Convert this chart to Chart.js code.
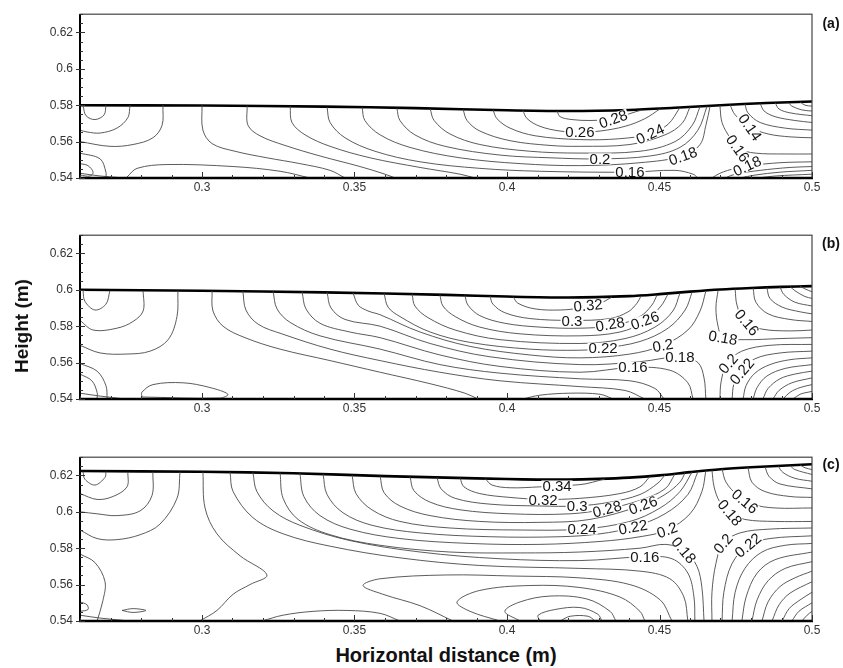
<!DOCTYPE html>
<html>
<head>
<meta charset="utf-8">
<script src="https://cdn.jsdelivr.net/npm/chart.js@4.4.0/dist/chart.umd.min.js"></script>
<style>
body { margin: 0; background: #fff; font-family: "Liberation Sans", Arial, sans-serif; }
#wrap { position: relative; width: 843px; height: 668px; overflow: hidden; }
canvas { position: absolute; left: 0; }
#ylab { position: absolute; left: 22px; top: 326px; transform: translate(-50%, -50%) rotate(-90deg); font-weight: bold; font-size: 19px; white-space: nowrap; color: #111; }
#xlab { position: absolute; left: 446px; top: 655px; transform: translate(-50%, -50%); font-weight: bold; font-size: 20px; white-space: nowrap; color: #111; }
.tag { position: absolute; left: 831px; transform: translate(-50%, -50%); font-weight: bold; font-size: 14px; color: #111; }
</style>
</head>
<body>
<div id="wrap">
  <canvas id="pa" width="843" height="200" style="top:0px"></canvas>
  <canvas id="pb" width="843" height="200" style="top:221px"></canvas>
  <canvas id="pc" width="843" height="200" style="top:443px"></canvas>
  <div id="ylab">Height (m)</div>
  <div id="xlab">Horizontal distance (m)</div>
  <div class="tag" style="top:23px">(a)</div>
  <div class="tag" style="top:243px">(b)</div>
  <div class="tag" style="top:464px">(c)</div>
</div>
<script>
// axis ticks
const xMajor = [0.3, 0.35, 0.4, 0.45, 0.5];
const xLabels = ['0.3', '0.35', '0.4', '0.45', '0.5'];
const yMajor = [0.54, 0.56, 0.58, 0.6, 0.62];
const yLabels = ['0.54', '0.56', '0.58', '0.6', '0.62'];

// free surface of each panel
const surfaceAx = [0.26, 0.30, 0.34, 0.37, 0.40, 0.42, 0.44, 0.455, 0.47, 0.485, 0.50];
const surfaceAy = [0.5800, 0.5798, 0.5792, 0.5784, 0.5772, 0.5768, 0.5774, 0.5786, 0.5800, 0.5812, 0.5820];
const surfaceBx = [0.26, 0.30, 0.34, 0.38, 0.40, 0.42, 0.44, 0.45, 0.46, 0.47, 0.48, 0.49, 0.50];
const surfaceBy = [0.6000, 0.5995, 0.5986, 0.5972, 0.5963, 0.5958, 0.5965, 0.5976, 0.5990, 0.6002, 0.6010, 0.6016, 0.6020];
const surfaceCx = [0.26, 0.30, 0.33, 0.36, 0.38, 0.40, 0.41, 0.42, 0.43, 0.44, 0.45, 0.46, 0.47, 0.48, 0.49, 0.50];
const surfaceCy = [0.6224, 0.6220, 0.6212, 0.6196, 0.6188, 0.6180, 0.6177, 0.6177, 0.6181, 0.6188, 0.6200, 0.6218, 0.6234, 0.6245, 0.6253, 0.6261];

// contour lines, [x, y] in metres
const contoursA = [
  [[0.2610,0.5795],[0.2620,0.5742],[0.2649,0.5721],[0.2679,0.5747],[0.2685,0.5800]],
  [[0.2764,0.5800],[0.2757,0.5732],[0.2721,0.5674],[0.2666,0.5647],[0.2623,0.5653],[0.2600,0.5663]],
  [[0.2872,0.5800],[0.2869,0.5689],[0.2839,0.5621],[0.2774,0.5584],[0.2698,0.5574],[0.2600,0.5600]],
  [[0.2600,0.5537],[0.2666,0.5505],[0.2685,0.5432],[0.2685,0.5400]],
  [[0.2600,0.5479],[0.2626,0.5468],[0.2643,0.5432],[0.2633,0.5411],[0.2600,0.5416]],
  [[0.2600,0.5426],[0.2666,0.5411],[0.2748,0.5400]],
  [[0.2754,0.5405],[0.2787,0.5453],[0.2885,0.5474],[0.3102,0.5463],[0.3256,0.5437],[0.3354,0.5400]],
  [[0.3000,0.5800],[0.3003,0.5663],[0.3033,0.5589],[0.3108,0.5547],[0.3213,0.5511],[0.3321,0.5479],[0.3420,0.5442],[0.3469,0.5400]],
  [[0.3148,0.5797],[0.3151,0.5689],[0.3190,0.5632],[0.3272,0.5579],[0.3387,0.5521],[0.3518,0.5463],[0.3600,0.5421],[0.3633,0.5400]],
  [[0.3289,0.5795],[0.3295,0.5705],[0.3338,0.5637],[0.3420,0.5574],[0.3551,0.5511],[0.3715,0.5458],[0.3846,0.5421],[0.3895,0.5400]],
  [[0.3410,0.5790],[0.3420,0.5705],[0.3469,0.5621],[0.3567,0.5547],[0.3715,0.5489],[0.3911,0.5453],[0.4108,0.5437],[0.4403,0.5432],[0.4551,0.5442],[0.4610,0.5421],[0.4626,0.5400]],
  [[0.3525,0.5788],[0.3534,0.5716],[0.3584,0.5637],[0.3682,0.5568],[0.3846,0.5511],[0.4043,0.5479],[0.4239,0.5468],[0.4436,0.5484],[0.4577,0.5521],[0.4633,0.5584],[0.4652,0.5689],[0.4666,0.5795]],
  [[0.3639,0.5784],[0.3649,0.5716],[0.3698,0.5637],[0.3797,0.5574],[0.3977,0.5526],[0.4141,0.5511],[0.4305,0.5505],[0.4469,0.5521],[0.4567,0.5568],[0.4626,0.5663],[0.4656,0.5795]],
  [[0.3748,0.5781],[0.3761,0.5716],[0.3813,0.5642],[0.3911,0.5584],[0.4075,0.5547],[0.4239,0.5537],[0.4436,0.5547],[0.4551,0.5600],[0.4607,0.5689],[0.4633,0.5793]],
  [[0.3856,0.5777],[0.3869,0.5716],[0.3911,0.5658],[0.4010,0.5605],[0.4141,0.5579],[0.4239,0.5574],[0.4403,0.5584],[0.4518,0.5637],[0.4574,0.5700],[0.4600,0.5790]],
  [[0.3954,0.5775],[0.3967,0.5726],[0.4010,0.5674],[0.4092,0.5632],[0.4239,0.5611],[0.4370,0.5616],[0.4469,0.5642],[0.4528,0.5695],[0.4567,0.5787]],
  [[0.4052,0.5771],[0.4066,0.5726],[0.4108,0.5684],[0.4174,0.5658],[0.4239,0.5653],[0.4305,0.5658],[0.4387,0.5684],[0.4452,0.5726],[0.4502,0.5780]],
  [[0.4164,0.5768],[0.4174,0.5737],[0.4213,0.5721],[0.4272,0.5716],[0.4321,0.5721],[0.4370,0.5737],[0.4420,0.5763],[0.4443,0.5774]],
  [[0.4698,0.5800],[0.4705,0.5705],[0.4731,0.5621],[0.4757,0.5563],[0.4813,0.5537],[0.4912,0.5532],[0.5000,0.5532]],
  [[0.4731,0.5803],[0.4748,0.5747],[0.4797,0.5679],[0.4856,0.5642],[0.4928,0.5626],[0.5000,0.5621]],
  [[0.4780,0.5807],[0.4790,0.5758],[0.4830,0.5705],[0.4912,0.5674],[0.5000,0.5663]],
  [[0.4830,0.5810],[0.4843,0.5768],[0.4879,0.5737],[0.4944,0.5716],[0.5000,0.5705]],
  [[0.4879,0.5814],[0.4892,0.5779],[0.4928,0.5758],[0.5000,0.5742]],
  [[0.4921,0.5816],[0.4934,0.5795],[0.4967,0.5774],[0.5000,0.5768]],
  [[0.4961,0.5818],[0.4977,0.5800],[0.5000,0.5795]],
  [[0.4672,0.5400],[0.4698,0.5426],[0.4748,0.5453],[0.4797,0.5468],[0.4895,0.5484],[0.5000,0.5489]],
  [[0.4715,0.5400],[0.4748,0.5421],[0.4830,0.5442],[0.4928,0.5458],[0.5000,0.5463]],
  [[0.4764,0.5400],[0.4813,0.5416],[0.4895,0.5432],[0.5000,0.5442]],
  [[0.4823,0.5400],[0.4879,0.5411],[0.5000,0.5421]]
];

const contoursB = [
  [[0.2610,0.5995],[0.2616,0.5937],[0.2649,0.5889],[0.2685,0.5921],[0.2698,0.5995]],
  [[0.2807,0.5995],[0.2807,0.5884],[0.2774,0.5826],[0.2721,0.5789],[0.2643,0.5779],[0.2600,0.5832]],
  [[0.2921,0.5995],[0.2918,0.5853],[0.2889,0.5726],[0.2830,0.5663],[0.2754,0.5647],[0.2666,0.5653],[0.2600,0.5695]],
  [[0.2600,0.5595],[0.2656,0.5553],[0.2685,0.5474],[0.2689,0.5400]],
  [[0.2600,0.5537],[0.2639,0.5500],[0.2656,0.5437],[0.2656,0.5400]],
  [[0.2600,0.5432],[0.2666,0.5416],[0.2748,0.5400]],
  [[0.2803,0.5411],[0.2803,0.5437],[0.2839,0.5479],[0.2938,0.5489],[0.3026,0.5463],[0.3085,0.5426],[0.3059,0.5405],[0.2803,0.5411]],
  [[0.3033,0.5994],[0.3036,0.5884],[0.3069,0.5800],[0.3141,0.5737],[0.3256,0.5674],[0.3420,0.5611],[0.3584,0.5547],[0.3748,0.5484],[0.3862,0.5432],[0.3905,0.5400]],
  [[0.3134,0.5993],[0.3144,0.5889],[0.3184,0.5811],[0.3262,0.5758],[0.3420,0.5674],[0.3584,0.5611],[0.3780,0.5547],[0.3977,0.5500],[0.4239,0.5468],[0.4387,0.5447],[0.4452,0.5400]],
  [[0.3233,0.5991],[0.3246,0.5895],[0.3289,0.5821],[0.3387,0.5747],[0.3584,0.5674],[0.3780,0.5589],[0.3977,0.5542],[0.4239,0.5511],[0.4403,0.5500],[0.4485,0.5458],[0.4515,0.5400]],
  [[0.3328,0.5989],[0.3341,0.5895],[0.3387,0.5816],[0.3485,0.5768],[0.3584,0.5737],[0.3780,0.5642],[0.3977,0.5579],[0.4239,0.5547],[0.4413,0.5574],[0.4534,0.5558],[0.4593,0.5489],[0.4610,0.5400]],
  [[0.3410,0.5987],[0.3423,0.5900],[0.3469,0.5837],[0.3584,0.5800],[0.3748,0.5705],[0.3944,0.5632],[0.4239,0.5589],[0.4436,0.5605],[0.4567,0.5632],[0.4626,0.5600],[0.4646,0.5516],[0.4652,0.5400]],
  [[0.3495,0.5984],[0.3512,0.5916],[0.3544,0.5884],[0.3584,0.5863],[0.3715,0.5768],[0.3879,0.5689],[0.4075,0.5642],[0.4239,0.5626],[0.4403,0.5647],[0.4511,0.5695],[0.4593,0.5779],[0.4633,0.5884],[0.4652,0.5993]],
  [[0.3597,0.5980],[0.3610,0.5905],[0.3649,0.5853],[0.3748,0.5768],[0.3879,0.5711],[0.4075,0.5674],[0.4239,0.5668],[0.4315,0.5679],[0.4436,0.5716],[0.4528,0.5789],[0.4584,0.5889],[0.4607,0.5988]],
  [[0.3689,0.5977],[0.3698,0.5911],[0.3741,0.5847],[0.3830,0.5779],[0.3977,0.5726],[0.4239,0.5705],[0.4387,0.5732],[0.4485,0.5795],[0.4544,0.5884],[0.4567,0.5982]],
  [[0.3780,0.5973],[0.3790,0.5911],[0.3830,0.5853],[0.3911,0.5795],[0.4043,0.5758],[0.4239,0.5747],[0.4370,0.5768],[0.4452,0.5826],[0.4505,0.5911],[0.4528,0.5977]],
  [[0.3862,0.5969],[0.3872,0.5916],[0.3911,0.5858],[0.3993,0.5816],[0.4108,0.5795],[0.4239,0.5789],[0.4354,0.5805],[0.4436,0.5853],[0.4475,0.5916],[0.4492,0.5972]],
  [[0.3944,0.5966],[0.3954,0.5921],[0.3993,0.5874],[0.4075,0.5842],[0.4213,0.5832],[0.4338,0.5842],[0.4397,0.5879],[0.4426,0.5926],[0.4439,0.5965]],
  [[0.4020,0.5962],[0.4036,0.5926],[0.4092,0.5895],[0.4174,0.5889],[0.4239,0.5900],[0.4305,0.5926],[0.4344,0.5960]],
  [[0.4052,0.5400],[0.4108,0.5421],[0.4207,0.5432],[0.4305,0.5426],[0.4348,0.5400]],
  [[0.4692,0.5997],[0.4685,0.5900],[0.4692,0.5800],[0.4708,0.5737],[0.4780,0.5726],[0.4895,0.5732],[0.5000,0.5737]],
  [[0.4748,0.6003],[0.4754,0.5916],[0.4780,0.5821],[0.4836,0.5784],[0.4928,0.5774],[0.5000,0.5779]],
  [[0.4807,0.6010],[0.4816,0.5932],[0.4856,0.5868],[0.4928,0.5837],[0.5000,0.5826]],
  [[0.4852,0.6013],[0.4862,0.5953],[0.4902,0.5905],[0.4961,0.5879],[0.5000,0.5868]],
  [[0.4895,0.6016],[0.4908,0.5974],[0.4944,0.5932],[0.5000,0.5911]],
  [[0.4928,0.6018],[0.4944,0.5995],[0.4977,0.5963],[0.5000,0.5953]],
  [[0.4961,0.6019],[0.4977,0.6005],[0.5000,0.5989]],
  [[0.4698,0.5400],[0.4702,0.5495],[0.4721,0.5595],[0.4770,0.5663],[0.4862,0.5695],[0.5000,0.5700]],
  [[0.4738,0.5400],[0.4744,0.5484],[0.4767,0.5553],[0.4813,0.5621],[0.4895,0.5653],[0.5000,0.5663]],
  [[0.4774,0.5400],[0.4784,0.5474],[0.4813,0.5542],[0.4862,0.5589],[0.4928,0.5616],[0.5000,0.5626]],
  [[0.4807,0.5400],[0.4820,0.5463],[0.4852,0.5526],[0.4912,0.5568],[0.5000,0.5589]],
  [[0.4839,0.5400],[0.4856,0.5458],[0.4895,0.5511],[0.4944,0.5537],[0.5000,0.5553]],
  [[0.4872,0.5400],[0.4892,0.5447],[0.4934,0.5489],[0.5000,0.5516]],
  [[0.4905,0.5400],[0.4928,0.5437],[0.4961,0.5463],[0.5000,0.5479]],
  [[0.4938,0.5400],[0.4961,0.5426],[0.5000,0.5442]]
];

const contoursC = [
  [[0.2610,0.6221],[0.2616,0.6179],[0.2649,0.6147],[0.2682,0.6189],[0.2685,0.6221]],
  [[0.2757,0.6220],[0.2754,0.6137],[0.2708,0.6084],[0.2656,0.6068],[0.2600,0.6100]],
  [[0.2839,0.6220],[0.2836,0.6089],[0.2797,0.6005],[0.2721,0.5979],[0.2656,0.5989],[0.2600,0.6000]],
  [[0.2928,0.6220],[0.2918,0.6074],[0.2862,0.5932],[0.2797,0.5874],[0.2721,0.5847],[0.2656,0.5853],[0.2600,0.5900]],
  [[0.3003,0.6220],[0.3010,0.6021],[0.3049,0.5879],[0.3125,0.5758],[0.3213,0.5653],[0.3157,0.5600],[0.3102,0.5547],[0.3049,0.5458],[0.2993,0.5400]],
  [[0.2600,0.5768],[0.2649,0.5721],[0.2682,0.5616],[0.2675,0.5511],[0.2656,0.5400]],
  [[0.2600,0.5505],[0.2623,0.5489],[0.2626,0.5463],[0.2600,0.5453]],
  [[0.2600,0.5432],[0.2666,0.5416],[0.2764,0.5400]],
  [[0.2738,0.5458],[0.2774,0.5468],[0.2816,0.5458],[0.2774,0.5447],[0.2738,0.5458]],
  [[0.3197,0.5400],[0.3266,0.5432],[0.3364,0.5453],[0.3475,0.5458],[0.3584,0.5442],[0.3649,0.5400]],
  [[0.3092,0.6218],[0.3102,0.6111],[0.3167,0.5968],[0.3266,0.5879],[0.3420,0.5811],[0.3649,0.5747],[0.3911,0.5705],[0.4239,0.5689],[0.4436,0.5674],[0.4534,0.5632],[0.4580,0.5532],[0.4593,0.5400]],
  [[0.3167,0.6216],[0.3180,0.6111],[0.3233,0.6005],[0.3321,0.5926],[0.3485,0.5842],[0.3715,0.5779],[0.3977,0.5742],[0.4239,0.5732],[0.4452,0.5753],[0.4541,0.5742],[0.4593,0.5663],[0.4613,0.5532],[0.4616,0.5400]],
  [[0.3256,0.6214],[0.3266,0.6074],[0.3315,0.5958],[0.3420,0.5874],[0.3584,0.5816],[0.3813,0.5779],[0.4043,0.5774],[0.4239,0.5779],[0.4436,0.5800],[0.4521,0.5821],[0.4584,0.5784],[0.4623,0.5700],[0.4639,0.5584],[0.4646,0.5400]],
  [[0.3321,0.6212],[0.3334,0.6084],[0.3387,0.5979],[0.3485,0.5905],[0.3649,0.5853],[0.3879,0.5826],[0.4108,0.5821],[0.4305,0.5837],[0.4436,0.5863],[0.4525,0.5900],[0.4600,0.5989],[0.4639,0.6111],[0.4652,0.6226]],
  [[0.3397,0.6208],[0.3410,0.6095],[0.3462,0.5995],[0.3557,0.5926],[0.3715,0.5884],[0.3944,0.5863],[0.4174,0.5863],[0.4305,0.5879],[0.4413,0.5916],[0.4518,0.5989],[0.4593,0.6095],[0.4626,0.6222]],
  [[0.3492,0.6202],[0.3505,0.6100],[0.3557,0.6011],[0.3649,0.5947],[0.3813,0.5911],[0.4043,0.5900],[0.4246,0.5905],[0.4403,0.5947],[0.4502,0.6021],[0.4567,0.6111],[0.4607,0.6219]],
  [[0.3584,0.6196],[0.3597,0.6105],[0.3649,0.6032],[0.3748,0.5979],[0.3911,0.5947],[0.4108,0.5942],[0.4272,0.5958],[0.4446,0.6037],[0.4518,0.6095],[0.4567,0.6163],[0.4584,0.6215]],
  [[0.3682,0.6193],[0.3695,0.6116],[0.3748,0.6053],[0.3846,0.6011],[0.4010,0.5989],[0.4207,0.5989],[0.4328,0.6016],[0.4436,0.6063],[0.4518,0.6126],[0.4551,0.6209]],
  [[0.3770,0.6190],[0.3784,0.6126],[0.3830,0.6074],[0.3944,0.6042],[0.4108,0.6032],[0.4230,0.6032],[0.4338,0.6053],[0.4436,0.6095],[0.4495,0.6158],[0.4518,0.6203]],
  [[0.3846,0.6186],[0.3859,0.6137],[0.3911,0.6100],[0.4010,0.6079],[0.4118,0.6068],[0.4239,0.6074],[0.4370,0.6100],[0.4436,0.6137],[0.4469,0.6195]],
  [[0.3928,0.6183],[0.3951,0.6147],[0.4010,0.6132],[0.4108,0.6137],[0.4174,0.6142],[0.4256,0.6153],[0.4305,0.6174],[0.4321,0.6180]],
  [[0.3823,0.5400],[0.3715,0.5484],[0.3593,0.5547],[0.3528,0.5595],[0.3584,0.5632],[0.3803,0.5653],[0.4020,0.5647],[0.4239,0.5637],[0.4403,0.5600],[0.4502,0.5516],[0.4541,0.5400]],
  [[0.3977,0.5400],[0.3879,0.5453],[0.3836,0.5505],[0.3911,0.5568],[0.4075,0.5595],[0.4239,0.5584],[0.4370,0.5532],[0.4436,0.5453],[0.4452,0.5400]],
  [[0.4043,0.5400],[0.3993,0.5453],[0.4043,0.5505],[0.4141,0.5537],[0.4262,0.5521],[0.4338,0.5453],[0.4357,0.5400]],
  [[0.4108,0.5400],[0.4102,0.5432],[0.4157,0.5463],[0.4239,0.5474],[0.4298,0.5437],[0.4311,0.5400]],
  [[0.4174,0.5400],[0.4207,0.5426],[0.4266,0.5426],[0.4289,0.5400]],
  [[0.4672,0.6229],[0.4679,0.6137],[0.4698,0.6053],[0.4731,0.5995],[0.4780,0.5958],[0.4879,0.5947],[0.5000,0.5947]],
  [[0.4705,0.6235],[0.4718,0.6163],[0.4757,0.6089],[0.4803,0.6042],[0.4879,0.6021],[0.5000,0.6021]],
  [[0.4790,0.6244],[0.4803,0.6163],[0.4846,0.6111],[0.4928,0.6084],[0.5000,0.6079]],
  [[0.4846,0.6247],[0.4859,0.6195],[0.4895,0.6153],[0.5000,0.6126]],
  [[0.4889,0.6251],[0.4905,0.6216],[0.4944,0.6184],[0.5000,0.6168]],
  [[0.4928,0.6254],[0.4944,0.6232],[0.5000,0.6205]],
  [[0.4961,0.6257],[0.4977,0.6242],[0.5000,0.6232]],
  [[0.4672,0.5400],[0.4672,0.5558],[0.4685,0.5716],[0.4708,0.5826],[0.4764,0.5884],[0.4862,0.5905],[0.5000,0.5911]],
  [[0.4705,0.5400],[0.4711,0.5558],[0.4738,0.5716],[0.4790,0.5816],[0.4862,0.5853],[0.5000,0.5868]],
  [[0.4738,0.5400],[0.4748,0.5558],[0.4780,0.5689],[0.4836,0.5779],[0.4912,0.5816],[0.5000,0.5826]],
  [[0.4770,0.5400],[0.4784,0.5532],[0.4820,0.5663],[0.4879,0.5737],[0.5000,0.5779]],
  [[0.4803,0.5400],[0.4820,0.5516],[0.4856,0.5621],[0.4912,0.5689],[0.5000,0.5726]],
  [[0.4836,0.5400],[0.4856,0.5505],[0.4895,0.5589],[0.4944,0.5637],[0.5000,0.5674]],
  [[0.4869,0.5400],[0.4892,0.5489],[0.4928,0.5553],[0.5000,0.5616]],
  [[0.4902,0.5400],[0.4925,0.5468],[0.4961,0.5516],[0.5000,0.5558]],
  [[0.4934,0.5400],[0.4957,0.5453],[0.5000,0.5500]],
  [[0.4967,0.5400],[0.4984,0.5432],[0.5000,0.5453]]
];

// contour labels: text, x, y, angle (deg)
const labelsA = [
  ['0.26', 0.4239, 0.5653, 0], ['0.28', 0.4348, 0.5724, -20], ['0.24', 0.4469, 0.5642, -25],
  ['0.2', 0.4305, 0.5505, 0], ['0.18', 0.4577, 0.5521, -20], ['0.16', 0.4403, 0.5434, 0],
  ['0.14', 0.4797, 0.5679, 55], ['0.16', 0.4757, 0.5563, 55], ['0.18', 0.4787, 0.5466, -25]
];
const labelsB = [
  ['0.32', 0.4266, 0.5915, -5], ['0.3', 0.4213, 0.5832, 0], ['0.28', 0.4338, 0.5811, -10],
  ['0.26', 0.4452, 0.5832, -20], ['0.22', 0.4315, 0.5679, 0], ['0.2', 0.4511, 0.5695, -10],
  ['0.18', 0.4567, 0.5632, 0], ['0.16', 0.4413, 0.5574, 0], ['0.18', 0.4708, 0.5737, 10],
  ['0.16', 0.4787, 0.5821, 50], ['0.2', 0.4725, 0.5595, -50], ['0.22', 0.4770, 0.5553, -50]
];
const labelsC = [
  ['0.34', 0.4164, 0.6142, 0], ['0.32', 0.4118, 0.6068, 0], ['0.3', 0.4230, 0.6032, 0],
  ['0.28', 0.4328, 0.6016, -15], ['0.26', 0.4446, 0.6037, -20], ['0.24', 0.4246, 0.5905, 0],
  ['0.22', 0.4413, 0.5916, -10], ['0.2', 0.4525, 0.5900, -20], ['0.16', 0.4452, 0.5753, 0],
  ['0.18', 0.4580, 0.5789, 50], ['0.16', 0.4780, 0.6058, 40], ['0.18', 0.4731, 0.5995, 50],
  ['0.2', 0.4708, 0.5826, -50], ['0.22', 0.4790, 0.5816, -40]
];

const framePlugin = {
  id: 'frame',
  afterDraw(chart) {
    const { ctx, chartArea: a, scales } = chart;
    ctx.save();
    ctx.strokeStyle = '#444';
    ctx.lineWidth = 1.2;
    ctx.strokeRect(a.left, a.top, a.right - a.left, a.bottom - a.top);
    ctx.strokeStyle = '#000';
    ctx.lineWidth = 2;
    ctx.beginPath(); ctx.moveTo(a.left, a.top); ctx.lineTo(a.left, a.bottom); ctx.stroke();
    ctx.lineWidth = 2.6;
    ctx.beginPath(); ctx.moveTo(a.left - 1, a.bottom); ctx.lineTo(a.right + 1, a.bottom); ctx.stroke();
    // tick marks
    ctx.strokeStyle = '#333';
    ctx.lineWidth = 1;
    for (let i = 0; i <= 24; i++) {
      const v = 0.26 + i * 0.01;
      const major = xMajor.some(m => Math.abs(m - v) < 1e-6);
      const px = Math.round(scales.x.getPixelForValue(v)) + 0.5;
      ctx.beginPath(); ctx.moveTo(px, a.bottom); ctx.lineTo(px, a.bottom - (major ? 6 : 3)); ctx.stroke();
    }
    for (let i = 0; i <= 18; i++) {
      const v = 0.54 + i * 0.005;
      const major = yMajor.some(m => Math.abs(m - v) < 1e-6);
      const py = Math.round(scales.y.getPixelForValue(v)) + 0.5;
      ctx.beginPath(); ctx.moveTo(a.left - (major ? 4 : 0), py); ctx.lineTo(a.left + (major ? 5 : 3), py); ctx.stroke();
    }
    ctx.restore();
  }
};

function labelPlugin(labels) {
  return {
    id: 'clabels',
    afterDatasetsDraw(chart) {
      const { ctx, scales } = chart;
      ctx.save();
      ctx.font = '15px "Liberation Sans", Arial, sans-serif';
      ctx.textAlign = 'center';
      ctx.textBaseline = 'middle';
      labels.forEach(([t, x, y, rot]) => {
        const px = scales.x.getPixelForValue(x);
        const py = scales.y.getPixelForValue(y);
        ctx.save();
        ctx.translate(px, py);
        ctx.rotate(rot * Math.PI / 180);
        const w = ctx.measureText(t).width;
        ctx.fillStyle = '#fff';
        ctx.fillRect(-w / 2 - 1, -5.5, w + 2, 11);
        ctx.fillStyle = '#151515';
        ctx.fillText(t, 0, 1);
        ctx.restore();
      });
      ctx.restore();
    }
  };
}

function makePanel(id, sx, sy, contours, labels) {
  const datasets = contours.map(c => ({
    data: c.map(p => ({ x: p[0], y: p[1] })),
    showLine: true,
    borderColor: '#4a4a4a',
    borderWidth: 0.9,
    pointRadius: 0,
    tension: 0.35,
    fill: false
  }));
  datasets.push({
    data: sx.map((x, i) => ({ x: x, y: sy[i] })),
    showLine: true,
    borderColor: '#000',
    borderWidth: 2.6,
    pointRadius: 0,
    tension: 0.3,
    fill: false
  });
  const tickFont = { size: 12, family: '"Liberation Sans", Arial, sans-serif' };
  new Chart(document.getElementById(id), {
    type: 'scatter',
    data: { datasets: datasets },
    options: {
      responsive: false,
      animation: false,
      events: [],
      layout: { padding: { top: 8, right: 31, left: 0, bottom: 0 } },
      plugins: { legend: { display: false }, tooltip: { enabled: false } },
      scales: {
        x: {
          type: 'linear', min: 0.26, max: 0.5,
          afterBuildTicks: s => { s.ticks = xMajor.map(v => ({ value: v })); },
          afterFit: s => { s.height = 22; },
          grid: { drawOnChartArea: false, drawTicks: false },
          border: { display: false },
          ticks: { padding: 2, color: '#333', font: tickFont, maxRotation: 0, autoSkip: false,
                   callback: (v, i) => xLabels[i] }
        },
        y: {
          type: 'linear', min: 0.54, max: 0.63,
          afterBuildTicks: s => { s.ticks = yMajor.map(v => ({ value: v })); },
          afterFit: s => { s.width = 80; },
          grid: { drawOnChartArea: false, drawTicks: false },
          border: { display: false },
          ticks: { padding: 7, color: '#333', font: tickFont, autoSkip: false,
                   callback: (v, i) => yLabels[i] }
        }
      }
    },
    plugins: [labelPlugin(labels), framePlugin]
  });
}

makePanel('pa', surfaceAx, surfaceAy, contoursA, labelsA);
makePanel('pb', surfaceBx, surfaceBy, contoursB, labelsB);
makePanel('pc', surfaceCx, surfaceCy, contoursC, labelsC);
</script>
</body>
</html>
